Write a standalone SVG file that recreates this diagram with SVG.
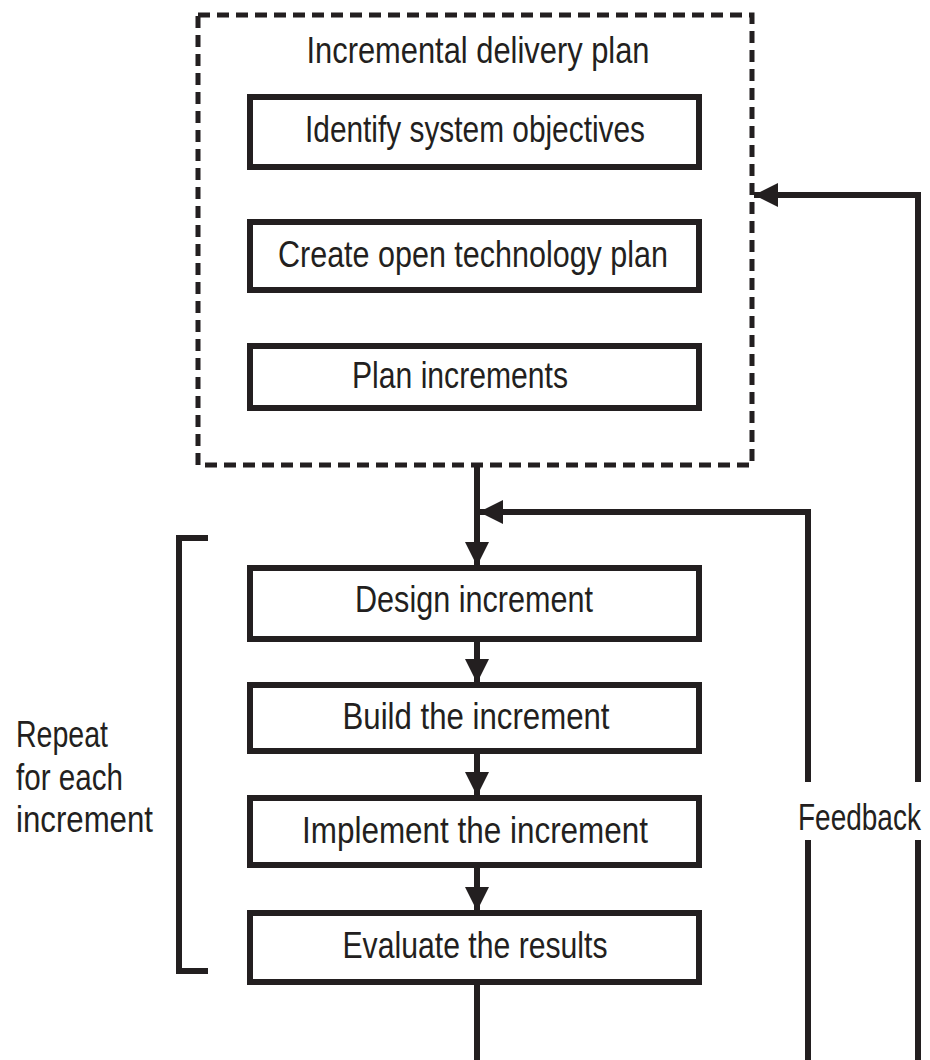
<svg xmlns="http://www.w3.org/2000/svg" width="930" height="1060" viewBox="0 0 930 1060">
<defs>
<style>
.box{fill:#fff;stroke:#231f20;stroke-width:6}
.dash{fill:none;stroke:#231f20;stroke-width:5;stroke-dasharray:12 7}
.ln{fill:none;stroke:#231f20;stroke-width:6}
.t{font-family:"Liberation Sans",Arial,sans-serif;font-size:37px;fill:#231f20;text-anchor:middle}
.tl{font-family:"Liberation Sans",Arial,sans-serif;font-size:37px;fill:#231f20}
</style>
<marker id="ah" viewBox="0 0 10 10" refX="10" refY="5" markerWidth="4" markerHeight="4" orient="auto" markerUnits="strokeWidth">
<path d="M0,0 L10,5 L0,10 Z" fill="#231f20"/>
</marker>
</defs>
<rect width="930" height="1060" fill="#fff"/>
<g id="plan">
<rect class="dash" x="198" y="15" width="554" height="450"/>
<text class="t" x="478" y="63" textLength="343" lengthAdjust="spacingAndGlyphs">Incremental delivery plan</text>
</g>
<g id="n1"><rect class="box" x="250" y="97" width="449" height="70"/><text class="t" x="475" y="142" textLength="340" lengthAdjust="spacingAndGlyphs">Identify system objectives</text></g>
<g id="n2"><rect class="box" x="250" y="222" width="449" height="68"/><text class="t" x="473" y="267" textLength="390" lengthAdjust="spacingAndGlyphs">Create open technology plan</text></g>
<g id="n3"><rect class="box" x="250" y="346" width="449" height="62"/><text class="t" x="460" y="388" textLength="216" lengthAdjust="spacingAndGlyphs">Plan increments</text></g>
<g id="n4"><rect class="box" x="250" y="568" width="449" height="71"/><text class="t" x="474" y="612" textLength="238" lengthAdjust="spacingAndGlyphs">Design increment</text></g>
<g id="n5"><rect class="box" x="250" y="685" width="449" height="66"/><text class="t" x="476" y="729" textLength="267" lengthAdjust="spacingAndGlyphs">Build the increment</text></g>
<g id="n6"><rect class="box" x="250" y="798" width="449" height="67"/><text class="t" x="475" y="843" textLength="346" lengthAdjust="spacingAndGlyphs">Implement the increment</text></g>
<g id="n7"><rect class="box" x="250" y="913" width="449" height="69"/><text class="t" x="475" y="958" textLength="265" lengthAdjust="spacingAndGlyphs">Evaluate the results</text></g>
<g id="repeat">
<path class="ln" d="M208,538 H179 V971 H208"/>
<text class="tl" x="16" y="747" textLength="92" lengthAdjust="spacingAndGlyphs">Repeat</text>
<text class="tl" x="16" y="790" textLength="107" lengthAdjust="spacingAndGlyphs">for each</text>
<text class="tl" x="16" y="832" textLength="137" lengthAdjust="spacingAndGlyphs">increment</text>
</g>
<g id="feedback-label">
<text class="tl" transform="translate(798,830) scale(1,1.32)" x="0" y="0" style="font-size:28px">Feedback</text>
</g>
<g id="connectors">
<path class="ln" d="M477,465 V566" marker-end="url(#ah)"/>
<path class="ln" d="M477,639 V683" marker-end="url(#ah)"/>
<path class="ln" d="M477,751 V796" marker-end="url(#ah)"/>
<path class="ln" d="M477,865 V911" marker-end="url(#ah)"/>
<path class="ln" d="M477,982 V1060"/>
<path class="ln" d="M808,1060 V840"/>
<path class="ln" d="M808,782 V512 H479" marker-end="url(#ah)"/>
<path class="ln" d="M918,1060 V840"/>
<path class="ln" d="M918,782 V195 H754" marker-end="url(#ah)"/>
</g>
</svg>
